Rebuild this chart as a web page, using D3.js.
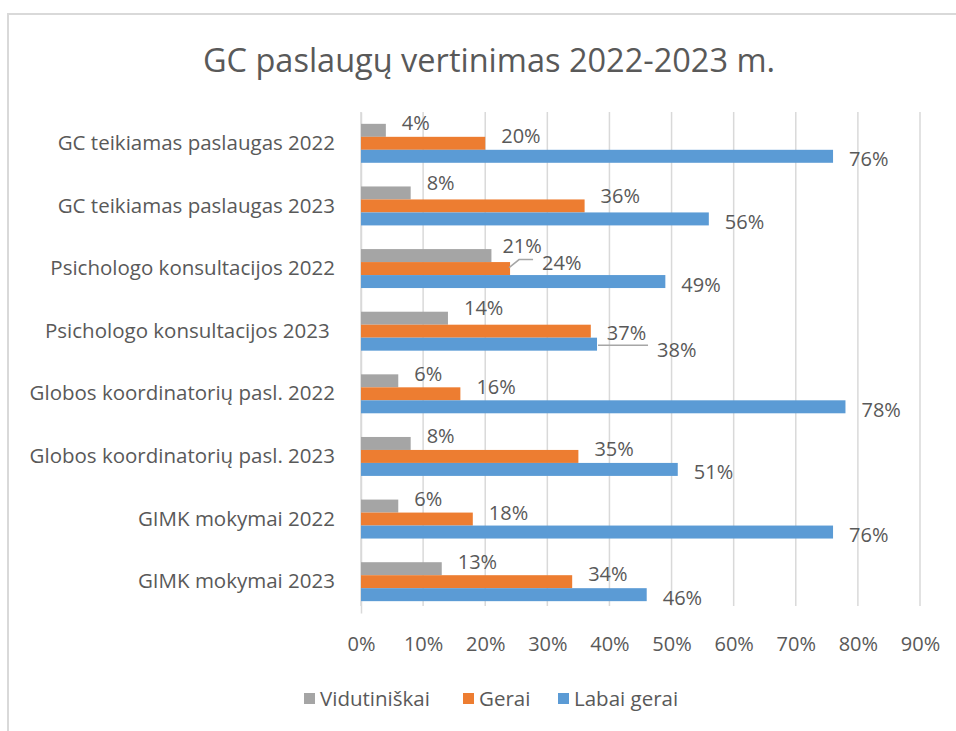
<!doctype html>
<html>
<head>
<meta charset="UTF-8">
<title>GC paslaugų vertinimas</title>
<script src="https://d3js.org/d3.v7.min.js"></script>
<style>
  body { margin: 0; background: #fff; }
  text { font-family: "Open Sans", sans-serif; fill: #595959; }
  .grid line { stroke: #d9d9d9; stroke-width: 1.5; }
</style>
</head>
<body>
<svg id="chart" width="956" height="731"></svg>
<script>
// data
var categories = [
  "GC teikiamas paslaugas 2022",
  "GC teikiamas paslaugas 2023",
  "Psichologo konsultacijos 2022",
  "Psichologo konsultacijos 2023 ",
  "Globos koordinatorių pasl. 2022",
  "Globos koordinatorių pasl. 2023",
  "GIMK mokymai 2022",
  "GIMK mokymai 2023"
];
var seriesNames = ["Vidutiniškai", "Gerai", "Labai gerai"];
var vidutiniskai = [4, 8, 21, 14, 6, 8, 6, 13];
var gerai = [20, 36, 24, 37, 16, 35, 18, 34];
var labaiGerai = [76, 56, 49, 38, 78, 51, 76, 46];
var xTicks = [0, 10, 20, 30, 40, 50, 60, 70, 80, 90];

var colors = ["#a5a5a5", "#ed7d31", "#5b9bd5"];
var seriesValues = [vidutiniskai, gerai, labaiGerai];

var svg = d3.select("#chart");

// chart area border
svg.append("rect")
  .attr("x", 8).attr("y", 14)
  .attr("width", 990).attr("height", 740)
  .attr("fill", "none").attr("stroke", "#d9d9d9").attr("stroke-width", 2);

svg.append("text")
  .attr("x", 489).attr("y", 72)
  .attr("text-anchor", "middle")
  .style("font-size", "32.5px")
  .text("GC paslaugų vertinimas 2022-2023 m.");

var x = d3.scaleLinear().domain([0, 90]).range([361, 920]);
var y = d3.scaleBand().domain(categories).range([112, 613]).paddingInner(0.378).paddingOuter(0.189);
var ySub = d3.scaleBand().domain([0, 1, 2]).range([0, y.bandwidth()]);

// gridlines
svg.append("g").attr("class", "grid")
  .selectAll("line").data(xTicks).enter().append("line")
  .attr("x1", function (d) { return x(d); })
  .attr("x2", function (d) { return x(d); })
  .attr("y1", 112).attr("y2", 606);

// x axis labels
var xAxis = svg.append("g")
  .attr("transform", "translate(0,606)")
  .call(d3.axisBottom(x).tickValues(xTicks).tickSize(0).tickPadding(31)
    .tickFormat(function (d) { return d + "%"; }));
xAxis.select(".domain").remove();
xAxis.selectAll("text").style("font-size", "20px").style("fill", "#595959")
  .style("font-family", "'Open Sans', sans-serif");

// y axis
var yAxis = svg.append("g")
  .attr("transform", "translate(361,0)")
  .call(d3.axisLeft(y).tickSize(0).tickPadding(26));
yAxis.select(".domain").attr("stroke", "#d9d9d9").attr("stroke-width", 1.5);
yAxis.selectAll("text").style("font-size", "20.5px").style("fill", "#595959")
  .style("font-family", "'Open Sans', sans-serif").style("white-space", "pre");

// flatten bars
var bars = [];
categories.forEach(function (c, i) {
  seriesValues.forEach(function (vals, s) {
    bars.push({ cat: c, ci: i, s: s, v: vals[i] });
  });
});

svg.append("g").selectAll("rect").data(bars).enter().append("rect")
  .attr("x", x(0))
  .attr("y", function (d) { return y(d.cat) + ySub(d.s); })
  .attr("width", function (d) { return x(d.v) - x(0); })
  .attr("height", ySub.bandwidth())
  .attr("fill", function (d) { return colors[d.s]; });

// data labels (default offsets, with a few hand-moved ones like in the original)
var baseDy = [-7, -7, 3];
var nudges = {
  "1-0": { dy: -10 }, "1-1": { dy: -10 },
  "2-0": { dx: -5, dy: -10 }, "2-1": { dx: 16, dy: -6, leader: "diag" },
  "3-0": { dy: -10 }, "3-1": { dy: 2 }, "3-2": { dx: 44, dy: 6, leader: "flat" },
  "6-1": { dy: -6 }, "7-1": { dy: -8 }
};

var labels = svg.append("g");
bars.forEach(function (d) {
  var n = nudges[d.ci + "-" + d.s] || {};
  var ex = x(d.v), ey = y(d.cat) + ySub(d.s) + ySub.bandwidth() / 2;
  var lx = ex + 16 + (n.dx || 0);
  var ly = ey + (n.dy !== undefined ? n.dy : baseDy[d.s]);
  if (n.leader === "diag") {
    labels.append("path")
      .attr("d", "M" + (ex - 1) + "," + (ey - 1) + "L" + (ex + 9) + "," + (ly - 3) + "L" + (lx - 9) + "," + (ly - 3))
      .attr("fill", "none").attr("stroke", "#a6a6a6").attr("stroke-width", 1.5);
  }
  if (n.leader === "flat") {
    labels.append("line")
      .attr("x1", ex + 1).attr("x2", lx - 9)
      .attr("y1", ey + 1).attr("y2", ey + 1)
      .attr("stroke", "#a6a6a6").attr("stroke-width", 1.5);
  }
  labels.append("text")
    .attr("x", lx).attr("y", ly)
    .attr("dy", "0.35em")
    .style("font-size", "20px")
    .text(d.v + "%");
});

// legend
var legendX = [304, 463, 558];
var legend = svg.append("g");
seriesNames.forEach(function (name, i) {
  legend.append("rect")
    .attr("x", legendX[i]).attr("y", 693)
    .attr("width", 11).attr("height", 11)
    .attr("fill", colors[i]);
  legend.append("text")
    .attr("x", legendX[i] + 16).attr("y", 699)
    .attr("dy", "0.35em")
    .style("font-size", "20.5px")
    .text(name);
});
</script>
</body>
</html>
